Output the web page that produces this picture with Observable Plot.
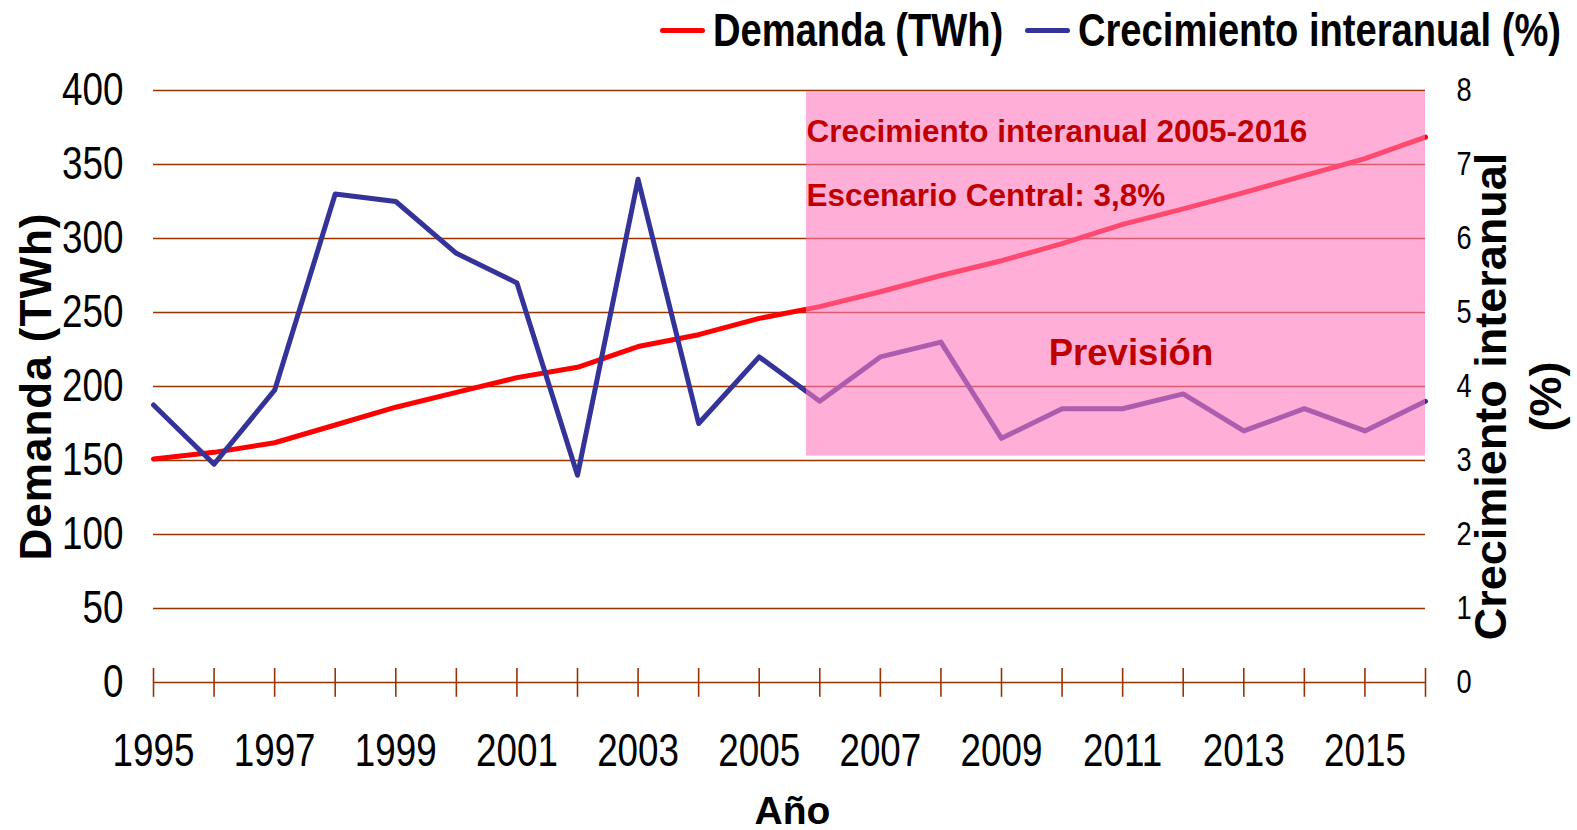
<!DOCTYPE html>
<html><head><meta charset="utf-8">
<script src="https://cdn.jsdelivr.net/npm/d3@7"></script>
<script src="https://cdn.jsdelivr.net/npm/@observablehq/plot@0.6"></script>
<style>
body{margin:0;background:#fff;}
#legend{position:relative;height:60px;width:1577px;font-family:"Liberation Sans",Arial,sans-serif;font-weight:bold;font-size:46.5px;color:#000;}
.item{position:absolute;top:0;height:60px;display:flex;align-items:center;white-space:nowrap;}
.swatch{display:inline-block;width:45px;height:5px;border-radius:3px;margin-right:8px;}
.lbl{display:inline-block;transform:scaleX(0.82);transform-origin:left center;}
</style></head>
<body><div id="legend"></div><div id="chart"></div>
<script>
const years = [1995,1996,1997,1998,1999,2000,2001,2002,2003,2004,2005,2006,2007,2008,2009,2010,2011,2012,2013,2014,2015,2016];
const demand = [151,155.5,162,174,186,196,206,213,227,235,246,254,264,275,285,296.5,309.5,320,331,342.5,354,368.5];
const growth = [3.75,2.95,3.95,6.6,6.5,5.8,5.4,2.8,6.8,3.5,4.4,3.8,4.4,4.6,3.3,3.7,3.7,3.9,3.4,3.7,3.4,3.8];
const yearLabels = [1995,1997,1999,2001,2003,2005,2007,2009,2011,2013,2015];
const leftTicks = [0,50,100,150,200,250,300,350,400];
const rightTicks = [0,1,2,3,4,5,6,7,8];
const seriesNames = ["Demanda (TWh)","Crecimiento interanual (%)"];
const seriesColors = ["#ff0000","#333399"];
const forecast = [{x1:2005.78, x2:2016, y1:153, y2:399}];
const notes = ["Crecimiento interanual 2005-2016","Escenario Central: 3,8%"];
const forecastLabel = "Previsión";
const xTitle = "Año";
const yTitleLeft = "Demanda (TWh)";
const yTitleRight = "Crecimiento interanual\n(%)";

const k = 50; // growth (%) -> demand scale units (8% <-> 400 TWh)
const rows = years.map((y,i)=>({year:y, demand:demand[i], growth:growth[i]}));

// legend
const lg = document.getElementById("legend");
const lefts = [660,1025];
seriesNames.forEach((n,i)=>{
  const it = document.createElement("div");
  it.className="item"; it.style.left=lefts[i]+"px";
  it.innerHTML = `<span class="swatch" style="background:${seriesColors[i]}"></span><span class="lbl">${n}</span>`;
  lg.appendChild(it);
});

const grid = "#993300";
const sans = "Liberation Sans, Arial, sans-serif";
const f = forecast[0];

const chart = Plot.plot({
  width:1577, height:770,
  marginTop:30, marginBottom:148, marginLeft:153, marginRight:152,
  x:{domain:[1995,2016]},
  y:{domain:[0,400]},
  style:{fontFamily:sans, background:"white", overflow:"visible", color:"black"},
  marks:[
    Plot.ruleY(leftTicks, {stroke:grid, strokeWidth:1.6}),
    Plot.ruleX(years, {y1:-10, y2:9.5, stroke:grid, strokeWidth:1.6}),
    Plot.axisY({anchor:"left", ticks:leftTicks, tickSize:0, tickPadding:30, fontSize:46, label:null}),
    Plot.axisY({anchor:"right", ticks:rightTicks.map(d=>d*k), tickFormat:d=>String(d/k), tickSize:0, tickPadding:31, fontSize:34, label:null}),
    Plot.axisX({ticks:yearLabels, tickFormat:d=>String(d), tickSize:0, tickPadding:51, fontSize:46, label:null}),
    Plot.line(rows, {x:"year", y:"demand", stroke:seriesColors[0], strokeWidth:5}),
    Plot.line(rows, {x:"year", y:d=>d.growth*k, stroke:seriesColors[1], strokeWidth:5}),
    Plot.rect(forecast, {x1:"x1", x2:"x2", y1:"y1", y2:"y2", fill:"#ff7abc", fillOpacity:0.6}),
    Plot.text([notes[0]], {x:f.x1, y:f.y2, dy:50, textAnchor:"start", lineAnchor:"bottom", fill:"#c00000", fontWeight:"bold", fontSize:31.5}),
    Plot.text([notes[1]], {x:f.x1, y:f.y2, dy:114, textAnchor:"start", lineAnchor:"bottom", fill:"#c00000", fontWeight:"bold", fontSize:31.5}),
    Plot.text([forecastLabel], {x:(f.x1+f.x2)/2, y:f.y2, dx:15, dy:273, textAnchor:"middle", lineAnchor:"bottom", fill:"#c00000", fontWeight:"bold", fontSize:36.6}),
    Plot.text([xTitle], {frameAnchor:"bottom", dx:3, dy:141, textAnchor:"middle", lineAnchor:"bottom", fontWeight:"bold", fontSize:39}),
    Plot.text([yTitleLeft], {frameAnchor:"left", dx:-103, rotate:-90, textAnchor:"middle", lineAnchor:"bottom", fontWeight:"bold", fontSize:44}),
    Plot.text([yTitleRight], {frameAnchor:"right", dx:135, dy:10, rotate:-90, textAnchor:"middle", lineAnchor:"bottom", lineHeight:1.22, fontWeight:"bold", fontSize:45})
  ]
});

// condense tick labels horizontally (reference uses a narrow typeface)
d3.select(chart).selectAll("g[aria-label$='tick label'] text").each(function(){
  const t = this.getAttribute("transform");
  if (t && /translate/.test(t)) {
    this.setAttribute("transform", t + " scale(0.8,1)");
  } else {
    const x = +(this.getAttribute("x")||0), y = +(this.getAttribute("y")||0);
    this.setAttribute("transform", `translate(${x},${y}) scale(0.8,1) translate(${-x},${-y})`);
  }
});
// slight letter spacing on the left title
d3.select(chart).selectAll("text").filter(function(){return this.textContent===yTitleLeft;}).style("letter-spacing","1px");

document.getElementById("chart").appendChild(chart);
</script>
</body></html>
